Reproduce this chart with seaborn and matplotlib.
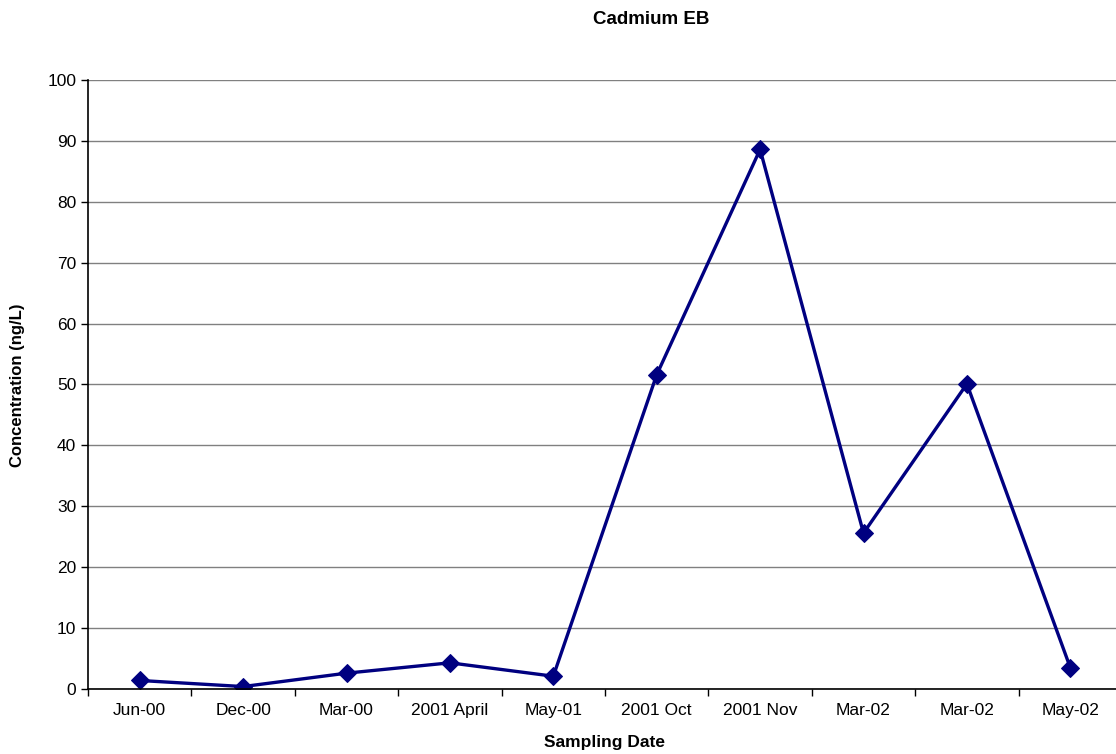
import matplotlib.pyplot as plt
import pandas as pd
import seaborn as sns
from matplotlib.ticker import FixedLocator

sns.set_style("white")
plt.rcParams["font.family"] = ["Liberation Sans", "DejaVu Sans"]
plt.rcParams["text.color"] = "black"
plt.rcParams["xtick.color"] = "black"
plt.rcParams["ytick.color"] = "black"

# DATA

dates = ["Jun-00", "Dec-00", "Mar-00", "2001 April", "May-01",
         "2001 Oct", "2001 Nov", "Mar-02", "Mar-02", "May-02"]
conc = [1.4, 0.4, 2.6, 4.3, 2.1, 51.6, 88.6, 25.6, 50.1, 3.5]

df = pd.DataFrame({"pos": range(len(dates)), "conc": conc})

# PLOT

fig = plt.figure(figsize=(11.16, 7.54), dpi=100)
ax = fig.add_axes([88 / 1116, 65 / 754, 1034 / 1116, 609 / 754])

ax.yaxis.grid(True, color="#808080", linewidth=1)
ax.set_axisbelow(True)

sns.lineplot(data=df, x="pos", y="conc", ax=ax, color="#000080",
             linewidth=2.4, marker="D", markersize=9,
             markeredgecolor="#000080")

ax.set_ylim(0, 100)
ax.set_yticks(range(0, 101, 10))
ax.set_xlim(-0.5, len(dates) - 0.5)

# tick marks between categories, labels in the middle
ax.xaxis.set_major_locator(FixedLocator([i - 0.5 for i in range(len(dates) + 1)]))
ax.xaxis.set_major_formatter(plt.NullFormatter())
ax.xaxis.set_minor_locator(FixedLocator(range(len(dates))))
ax.set_xticklabels(dates, minor=True)
ax.tick_params(axis="x", which="major", direction="out", length=5, width=1, bottom=True)
ax.tick_params(axis="x", which="minor", length=0, pad=10, labelsize=12.5)
ax.tick_params(axis="y", direction="out", length=5, width=1, left=True, labelsize=12.5)

for s in ["top", "right"]:
    ax.spines[s].set_visible(False)
for s in ["left", "bottom"]:
    ax.spines[s].set_color("black")
    ax.spines[s].set_linewidth(1.2)

ax.set_xlabel("")
ax.set_ylabel("")
fig.text(651 / 1116, 1 - 19 / 754, "Cadmium EB", ha="center", va="center",
         fontsize=13.5, fontweight="bold")
fig.text(605 / 1116, 1 - 743 / 754, "Sampling Date", ha="center", va="center",
         fontsize=12.5, fontweight="bold")
fig.text(18 / 1116, 1 - 385 / 754, "Concentration (ng/L)", ha="center", va="center",
         rotation=90, fontsize=12, fontweight="bold")

plt.savefig("out.png", dpi=100)
